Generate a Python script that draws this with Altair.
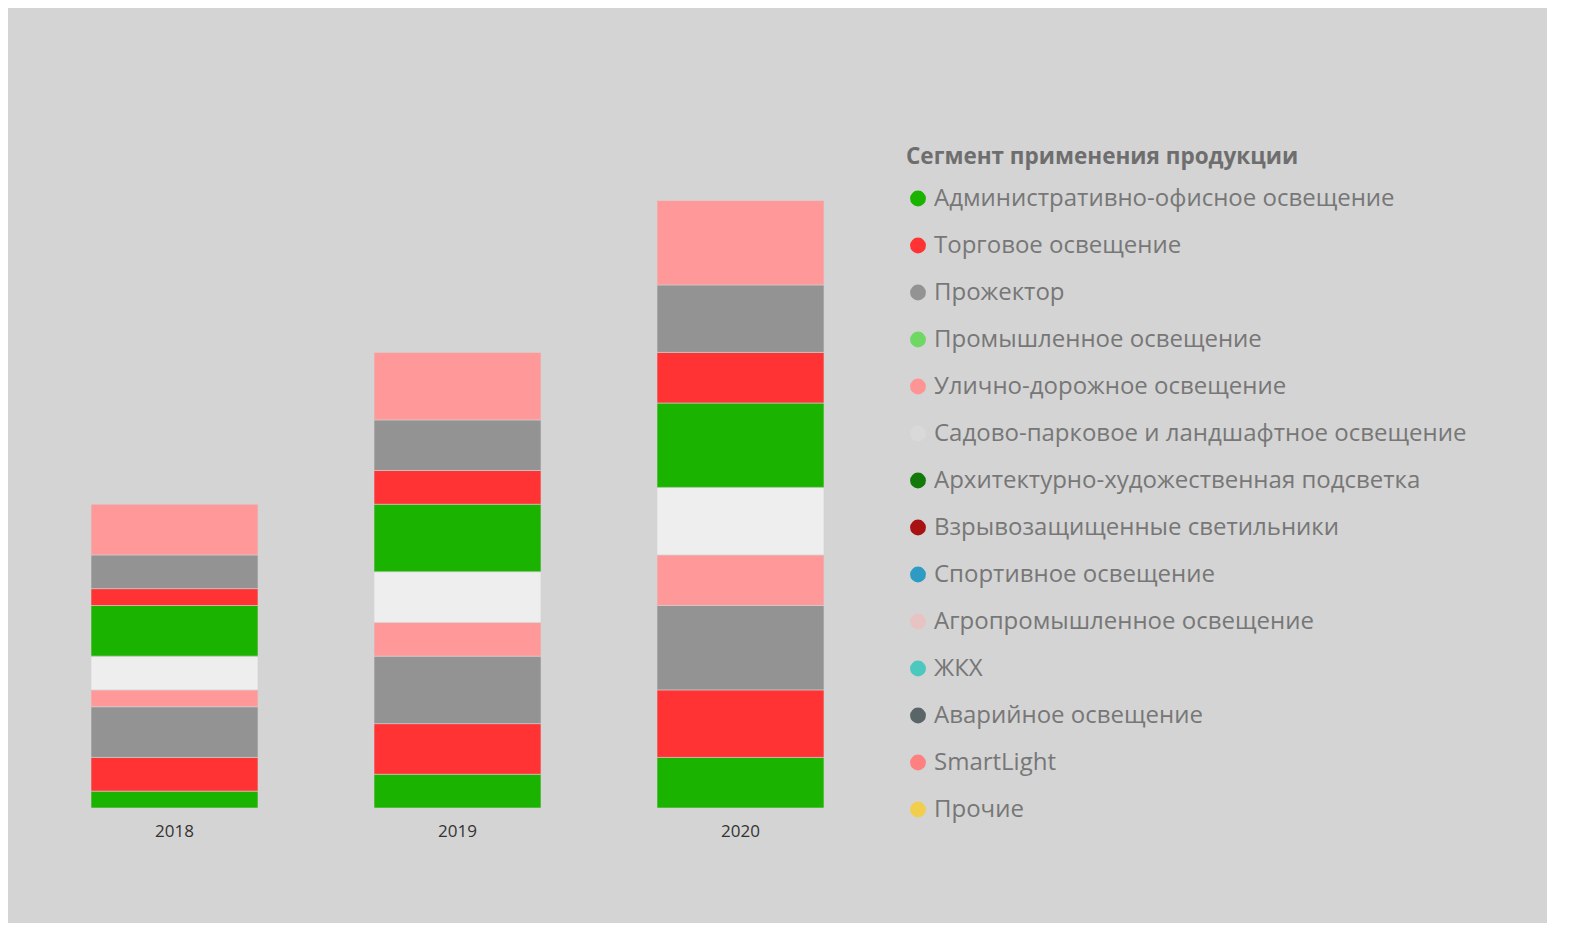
import altair as alt
import pandas as pd

years = ["2018", "2019", "2020"]
# segment values, bottom to top
values_2018 = [1, 2, 3, 1, 2, 3, 1, 2, 3]
values_2019 = [2, 3, 4, 2, 3, 4, 2, 3, 4]
values_2020 = [3, 4, 5, 3, 4, 5, 3, 4, 5]
segment_colors = ["#1AB400", "#FF3333", "#939393", "#FF9999", "#EEEEEE",
                  "#1AB400", "#FF3333", "#939393", "#FF9999"]

legend_labels = [
    "Административно-офисное освещение",
    "Торговое освещение",
    "Прожектор",
    "Промышленное освещение",
    "Улично-дорожное освещение",
    "Садово-парковое и ландшафтное освещение",
    "Архитектурно-художественная подсветка",
    "Взрывозащищенные светильники",
    "Спортивное освещение",
    "Агропромышленное освещение",
    "ЖКХ",
    "Аварийное освещение",
    "SmartLight",
    "Прочие",
]
legend_colors = ["#1AB400", "#FF3333", "#939393", "#6FD864", "#FF9494",
                 "#D9D9D9", "#137A0A", "#A81212", "#2E9BC4", "#E8C3C3",
                 "#4CC8BE", "#5A6567", "#FF8080", "#F2CE4E"]

rows = []
for y, vals in zip(years, [values_2018, values_2019, values_2020]):
    for i, v in enumerate(vals):
        rows.append({"year": y, "seg": i, "value": v, "color": segment_colors[i]})
df = pd.DataFrame(rows)

leg_df = pd.DataFrame({"cat": legend_labels})

font = "Open Sans"

bars = alt.Chart(df).mark_bar(stroke="#D4D4D4", strokeWidth=0.6).encode(
    x=alt.X("year:N", sort=years,
            scale=alt.Scale(paddingInner=0.41, paddingOuter=0.205),
            axis=alt.Axis(title=None, labelAngle=0, ticks=False, domain=False,
                          labelFontSize=17, labelColor="#333333", labelFont=font,
                          labelPadding=15, grid=False)),
    y=alt.Y("value:Q", stack="zero", scale=alt.Scale(domain=[0, 40], nice=False),
            axis=None),
    color=alt.Color("color:N", scale=None),
    order=alt.Order("seg:Q", sort="ascending"),
)

legend_layer = alt.Chart(leg_df).mark_point(opacity=0).encode(
    fill=alt.Fill("cat:N", sort=legend_labels,
                  scale=alt.Scale(domain=legend_labels, range=legend_colors),
                  legend=alt.Legend(
                      title="Сегмент применения продукции",
                      orient="none", legendX=873, legendY=13,
                      symbolType="circle", symbolSize=250, symbolStrokeWidth=0,
                      symbolOpacity=1,
                      titleFont=font, titleFontSize=22.5, titleFontWeight="bold",
                      titleColor="#6E6E6E", titlePadding=18, titleLimit=800,
                      labelFont=font, labelFontSize=24, labelColor="#777777",
                      labelOffset=4, rowPadding=23, labelLimit=800,
                  )),
)

chart = alt.layer(bars, legend_layer).resolve_scale(
    color="independent", fill="independent"
).properties(
    width=849, height=675,
    padding={"left": 25, "top": 125, "right": 80, "bottom": 84},
    background="#D4D4D4",
).configure_view(stroke=None)

chart.save("out.html", embed_options={"renderer": "svg", "actions": False})
